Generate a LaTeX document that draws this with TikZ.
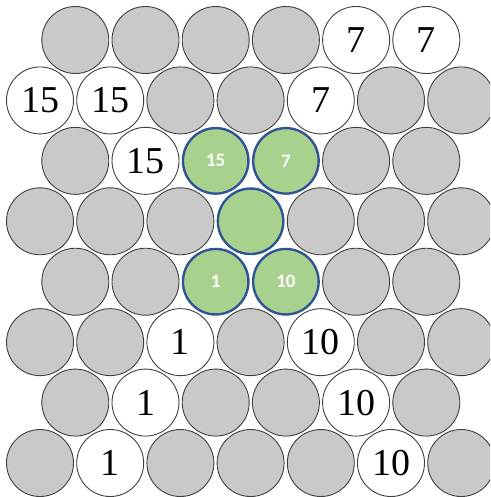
\documentclass[tikz,border=0pt]{standalone}
\usepackage{fontspec}
\setmainfont{Liberation Serif}
\newfontfamily\labelfont{Carlito}
\definecolor{ballgray}{HTML}{C9C9C9}
\definecolor{ballline}{HTML}{3F3F3F}
\definecolor{ballgreen}{HTML}{A9D18E}
\definecolor{ballblue}{HTML}{2F5597}
\tikzset{
	ball/.style={circle, minimum size=67pt, inner sep=0pt, draw=ballline, line width=0.9pt},
	grayball/.style={ball, fill=ballgray},
	whiteball/.style={ball, fill=white, font=\fontsize{38}{38}\selectfont},
	greenball/.style={ball, minimum size=65.5pt, fill=ballgreen, draw=ballblue, line width=2.4pt,
		text=white, font=\labelfont\bfseries\fontsize{19}{19}\selectfont}
}

\begin{document}
\begin{tikzpicture}[x=1pt, y=-1pt]
			\clip (0,0) rectangle (490,497);
			\fill[white] (0,0) rectangle (490,497);
			% rows from top: row / x of first ball / balls
			\foreach \r/\xo/\cells in {
				0/75.3/{grayball/{},grayball/{},grayball/{},grayball/{},whiteball/7,whiteball/7},
				1/40/{whiteball/15,whiteball/15,grayball/{},grayball/{},whiteball/7,grayball/{},grayball/{}},
				2/75.3/{grayball/{},whiteball/15,greenball/15,greenball/7,grayball/{},grayball/{}},
				3/40/{grayball/{},grayball/{},grayball/{},greenball/{},grayball/{},grayball/{},grayball/{}},
				4/75.3/{grayball/{},grayball/{},greenball/1,greenball/10,grayball/{},grayball/{}},
				5/40/{grayball/{},grayball/{},whiteball/1,grayball/{},whiteball/10,grayball/{},grayball/{}},
				6/75.3/{grayball/{},whiteball/1,grayball/{},grayball/{},whiteball/10,grayball/{}},
				7/40/{grayball/{},whiteball/1,grayball/{},grayball/{},grayball/{},whiteball/10,grayball/{}}}
			\foreach \s/\t [count=\c from 0] in \cells
			\node[\s] (b-\r-\c) at ({\xo+70.2*\c},{40+60.43*\r}) {\t};
		\end{tikzpicture}
\end{document}
